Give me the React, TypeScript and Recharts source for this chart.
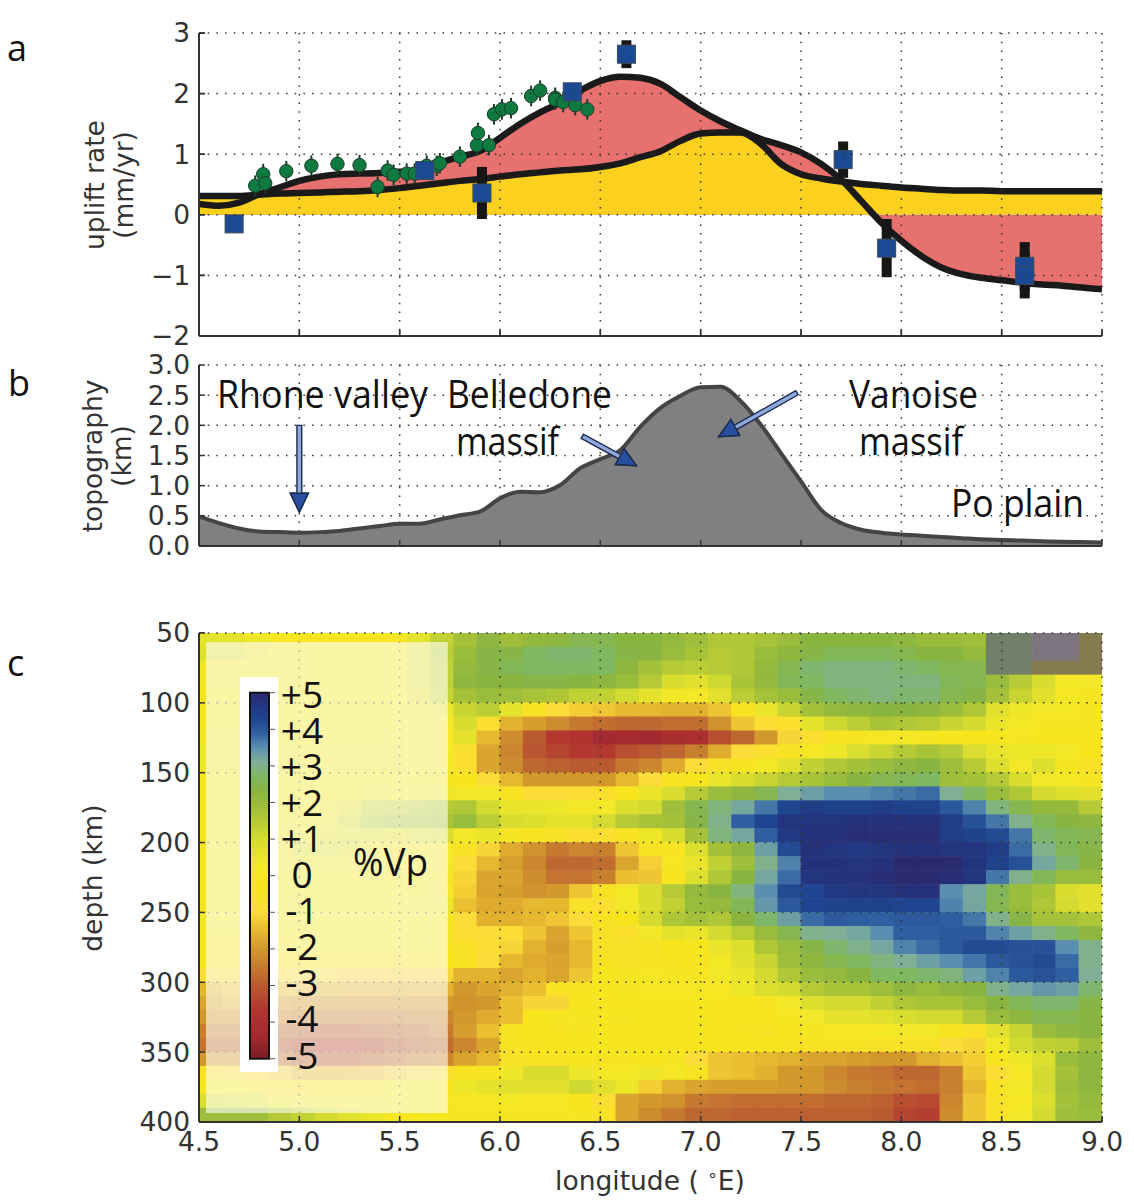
import React from 'react';
import { ComposedChart, Area, Line, Scatter, ErrorBar, XAxis, YAxis, CartesianGrid, ReferenceArea, ReferenceLine } from 'recharts';

const lonTicks = [4.5, 5, 5.5, 6, 6.5, 7, 7.5, 8, 8.5, 9];
const upliftTicks = [-2, -1, 0, 1, 2, 3];
const topoTicks = [0, 0.5, 1, 1.5, 2, 2.5, 3];
const depthTicks = [50, 100, 150, 200, 250, 300, 350, 400];

const profileLon = [4.5,4.6,4.7,4.8,4.9,5.0,5.1,5.2,5.3,5.4,5.5,5.6,5.7,5.8,5.9,6.0,6.1,6.2,6.3,6.4,6.5,6.6,6.7,6.8,6.9,7.0,7.1,7.2,7.3,7.4,7.5,7.6,7.7,7.8,7.9,8.0,8.1,8.2,8.3,8.4,8.5,8.6,8.7,8.8,8.9,9.0];
const modelA = [0.18,0.15,0.2,0.34,0.45,0.56,0.63,0.67,0.68,0.69,0.71,0.75,0.86,0.96,1.05,1.27,1.5,1.69,1.85,2.05,2.21,2.28,2.26,2.16,1.94,1.72,1.54,1.39,1.25,1.15,1.03,0.84,0.58,0.23,-0.13,-0.43,-0.68,-0.87,-0.98,-1.04,-1.08,-1.12,-1.15,-1.17,-1.2,-1.23];
const modelB = [0.31,0.31,0.31,0.33,0.35,0.36,0.37,0.38,0.39,0.41,0.44,0.48,0.52,0.56,0.59,0.63,0.67,0.7,0.73,0.75,0.79,0.85,0.95,1.05,1.22,1.34,1.36,1.36,1.17,0.84,0.67,0.6,0.55,0.51,0.48,0.45,0.43,0.41,0.4,0.4,0.39,0.39,0.39,0.39,0.39,0.39];
const topo = [0.49,0.38,0.29,0.24,0.23,0.22,0.23,0.25,0.29,0.33,0.37,0.37,0.44,0.51,0.57,0.79,0.9,0.89,1.01,1.29,1.44,1.59,1.98,2.29,2.49,2.63,2.64,2.4,2.01,1.54,1.07,0.6,0.38,0.27,0.22,0.19,0.17,0.15,0.13,0.11,0.1,0.09,0.08,0.07,0.065,0.06];

const levelLon = [4.78,4.82,4.83,4.935,5.06,5.19,5.3,5.39,5.44,5.47,5.535,5.575,5.635,5.685,5.7,5.8,5.885,5.89,5.945,5.97,6.01,6.055,6.155,6.2,6.275,6.275,6.315,6.375,6.435];
const levelRate = [0.48,0.67,0.52,0.72,0.81,0.84,0.82,0.46,0.73,0.66,0.68,0.68,0.81,0.81,0.85,0.96,1.15,1.35,1.15,1.66,1.74,1.76,1.96,2.05,1.93,1.9,1.86,1.81,1.74];
const gpsLon = [4.675,5.625,5.91,6.36,6.63,7.71,7.927,8.615,8.615];
const gpsRate = [-0.15,0.73,0.36,2.03,2.65,0.91,-0.55,-0.85,-1.0];
const gpsErr = [0,0.1,0.43,0.1,0.23,0.3,0.48,0.4,0.38];

const vpRows = [
[.6,.6,.4,.1,0,0,0,0,.1,.6,1.3,1.8,2.2,1.9,2.1,2.2,2.5,2.5,2.3,2.3,2.1,1.9,1.6,1.6,1.7,2,2.3,2.3,2.3,2.3,2.2,2,2,1.9,6,6,7,7,8],
[.8,.8,.5,.2,.1,0,0,0,.2,.8,1.4,2,2.4,2.4,2.7,2.8,2.8,2.7,2.4,2.3,2,1.7,1.5,1.6,2,2.2,2.4,2.6,2.6,2.6,2.5,2.3,2.3,2.1,6,6,7,7,8],
[.2,.1,.1,.1,.1,0,0,0,.2,.8,1.3,2.1,2.4,2.6,2.7,2.7,2.7,2.7,2.2,1.8,1.5,1.4,1.5,1.6,2.1,2.5,2.8,2.9,2.9,2.9,2.8,2.7,2.5,2.5,6,6,8,8,8],
[.1,.1,.1,.1,.1,0,0,0,.2,.8,1.3,2.2,2.3,2.3,2.4,2.4,2.3,2.2,2,1.5,.9,.7,1.1,1.7,2.1,2.6,2.7,2.9,2.9,2.9,2.9,2.9,2.6,2.5,2,1.5,.9,.2,.3],
[0,0,0,0,0,0,0,0,.1,.6,1.2,1.8,2,1.9,1.7,1.6,1.3,1.3,1,.6,.2,.2,.7,1.4,1.8,2,2.4,2.7,2.8,2.9,2.8,2.8,2.5,2.4,1.8,1.2,.7,.1,0],
[0,0,0,0,0,0,0,0,0,.2,.5,1.2,1.4,.6,-.5,-1,-1.2,-1.3,-1.5,-1.5,-1.6,-1.6,-1.3,-.5,.5,1.2,1.8,2.1,2.2,2.3,2.3,2.2,2,1.6,.7,.4,.3,.2,0],
[0,0,0,0,0,0,0,0,0,.1,.2,.9,-.8,-1.6,-1.9,-2.2,-2.5,-2.7,-2.8,-2.8,-2.7,-2.7,-2.1,-1.3,-.9,-.7,.6,1.1,1.4,1.7,1.6,1.5,1.2,1,.5,.2,0,0,0],
[.2,.2,0,0,0,0,0,0,.2,.2,.2,.6,-1.5,-2.2,-3,-3.6,-3.8,-4.4,-4.3,-4.4,-4.1,-4,-3.2,-2.8,-2,-1.1,-.8,-.4,0,.1,.2,0,-.2,-.3,-.2,0,-.2,-.2,-.2],
[.4,.4,.2,.1,.1,.2,.4,.4,.4,.2,.2,-.8,-1.8,-2.3,-3.1,-3.4,-3.6,-3.6,-3.2,-3,-2.8,-2.4,-1.7,-1,-.8,-.5,.1,.4,.9,1.2,1.5,1.7,1.5,.9,.5,.4,.4,.3,-.3],
[.4,.4,.2,0,.1,.2,.4,.4,.4,.2,.2,-.8,-1.8,-2.2,-2.8,-2.9,-3,-3,-2.5,-2.3,-1.7,-1,-.6,-.4,.2,.7,1.3,1.6,1.8,2,2.2,2.3,1.9,1.5,.8,.3,.8,0,-.6],
[0,0,0,0,0,0,0,0,0,0,0,-.3,-1,-1.5,-2,-2,-2,-2,-1.5,-1,-.5,-.3,.5,.9,1.2,1.5,1.7,2,2.3,2.5,2.6,2.7,1.9,1.8,1.5,.9,.3,.2,0],
[0,0,0,0,0,0,0,.1,.2,.3,.4,.3,.3,-.5,-1,-1,-.9,-.7,-.2,.5,.9,1.5,2,2.2,2.5,3.1,3.3,3.5,3.5,3.6,3.7,3.8,3.1,2.7,2,1.6,1,.8,.7],
[0,0,0,0,0,.2,.6,1.2,1.3,1.4,1.5,1.6,1,.5,.5,.4,.3,.2,.8,1,1.9,2.5,2.9,3.2,3.7,4.3,4.5,4.4,4.4,4.5,4.4,4.4,4,3.6,2.9,2.5,2.1,2.1,1.5],
[0,0,0,0,.1,.4,1,1.4,1.6,1.6,1.7,2,1.4,.9,.8,.6,.6,1,1.5,1.7,1.8,2.4,3,3.9,4.3,4.7,4.7,4.7,4.8,4.8,4.8,4.8,4.5,4.1,3.7,3,2.6,2.3,2.2],
[0,0,0,.1,.3,.6,.7,.7,.6,.8,.9,.3,.5,0,-.4,-.6,-.8,-.8,-.5,.4,.9,1.8,2.9,3.2,3.9,4.6,4.8,4.8,4.9,4.9,4.9,4.9,4.5,4.4,4.2,3.7,2.8,2.6,2.5],
[0,0,0,.2,.8,.8,.6,.4,.2,.1,.2,-.6,-1.1,-1.7,-2.1,-2.5,-2.3,-2.4,-1.3,-.5,-.1,.8,1.8,2.2,3.3,4.2,4.8,4.7,4.6,4.7,4.8,4.8,4.7,4.7,4.5,3.8,3,2.6,2.4],
[0,0,0,.1,.2,.2,.2,.1,.1,.1,.2,-1,-1.5,-1.9,-2.3,-2.8,-2.8,-2.7,-1.8,-1.2,0,.5,1.3,1.9,3,3.6,4.8,4.8,4.7,4.8,5,5,5,4.7,4.4,4.1,3.2,2.8,2.3],
[0,0,0,0,0,0,0,0,0,0,0,-1.1,-1.8,-1.8,-2.2,-2.6,-2.6,-2.4,-1.4,-1.3,-.3,.8,1.6,2.3,3.2,3.8,4.7,4.8,4.8,4.9,5,5,4.9,4.7,3.7,3,2.6,2,2],
[0,0,0,0,0,0,0,0,0,0,.1,-1.2,-1.8,-1.9,-2.1,-2,-1.3,-.5,.2,.9,1.5,2.1,2.3,2.9,3.5,4.2,4.3,4.6,4.7,4.7,4.8,4.8,3.5,3.2,2.6,2,1.7,.9,.7],
[0,0,0,0,0,0,0,0,0,.1,.4,-1.4,-1.7,-1.7,-1.5,-1.5,-.6,-.8,.3,.9,1.3,2,2.1,2.6,3.4,4,4.3,4.4,4.4,4.4,4.3,4.3,3.6,3.2,2.5,2,1.6,1,.7],
[.2,.1,0,0,0,0,0,0,0,0,0,-1,-1.6,-1.6,-1.5,-1.3,-1,-.5,-.3,1,1.6,1.8,1.6,2.3,2.8,3.3,3.8,4,3.9,3.9,4,4,3.9,3.7,3,2.4,1.8,1.8,1.6],
[0,0,0,0,0,0,0,0,0,0,0,-.9,-1,-.9,-1.3,-1.8,-1.3,-.6,-.7,.3,.6,.5,1,1.4,2,2.5,3,3.1,3.2,3.5,3.9,3.9,4,4,3.6,3.3,3,2.7,2.2],
[-.2,-.2,-.2,-.2,-.2,0,0,0,0,0,0,-.6,-.9,-1.1,-1.6,-1.9,-1.5,-.6,-.6,-.5,-.3,-.2,.5,.8,1.6,2,2.4,2.8,3,3.2,3.6,3.8,4,4.2,4.2,4.1,4.1,3.5,3],
[-.3,-.3,-.3,-.3,-.3,-.3,-.3,-.3,-.3,-.3,-.3,-.5,-1,-1.5,-1.7,-1.8,-1.5,-.5,-.6,-.5,-.4,-.4,.2,.7,1.2,1.9,2.2,2.5,2.7,2.9,3.1,3.3,3.5,3.7,4,4.1,4.2,3.8,3],
[-1,-.8,-.9,-.9,-1,-1,-1.1,-1.1,-1.1,-1.1,-1.1,-1.6,-1.6,-1.8,-1.6,-1.8,-1.3,-.2,0,.1,0,-.1,.3,.5,1,1.6,2,2.1,2.3,2.7,2.7,2.8,2.9,3.3,3.6,4,4.1,3.9,3.1],
[-1.5,-1.3,-1.3,-1.4,-1.4,-1.5,-1.6,-1.6,-1.6,-1.6,-1.6,-2,-1.8,-1.6,-1.4,-.5,-.4,-.2,0,.1,.1,.1,.1,.4,.8,1,1.5,1.7,1.7,1.9,2.2,2,2.2,2.3,3,3.2,3.4,3.3,2.8],
[-1.8,-1.6,-1.7,-1.9,-2,-2,-2,-2,-2,-2,-2,-2.1,-2,-1.4,-1.1,-1.1,-.3,-.1,-.2,-.2,-.2,-.2,-.2,-.2,-.1,.3,.8,1,1,1.3,1.6,1.7,1.7,2,2.3,2.6,2.8,2.8,2.4],
[-2,-2,-2.1,-2.2,-2.3,-2.4,-2.4,-2.4,-2.4,-2.3,-2.3,-2,-1.7,-1.4,-.2,0,0,0,0,-.2,-.2,-.2,-.2,-.2,-.2,0,.3,.6,.6,.7,.9,1,1,1.5,2,2.2,2.5,2.5,2.3],
[-2.4,-2.4,-2.5,-2.7,-2.8,-2.9,-2.9,-2.8,-2.7,-2.6,-2.5,-1.9,-1.4,-.4,-.2,-.1,-.1,-.2,-.2,-.3,-.2,-.2,-.3,-.4,-.5,-.3,0,.1,.1,.1,.3,.3,-.4,-.6,.7,1.2,2,2.2,2.3],
[-2.6,-2.6,-2.7,-3,-3.2,-3.3,-3.3,-3.2,-3,-2.8,-2.7,-2.3,-1.8,-.5,-.4,-.3,-.2,-.2,-.2,-.3,-.3,-.3,-.3,-.3,-.3,-.4,-.5,-.5,-.5,-.6,-.6,-.6,-1,-1.1,.3,1,1.3,1.4,1.9],
[-2,-2,-2.2,-2.6,-2.8,-2.9,-2.9,-2.8,-2.6,-2.4,-2.3,-1.8,-1.5,-.6,-.5,-.5,-.2,-.4,-.1,-.3,0,-1,-1.3,-1.4,-1.5,-1.6,-1.8,-1.8,-1.9,-2,-2,-1.6,-1.4,-1.2,-.2,.4,.8,2,2.2],
[-.6,-.8,-.9,-1.2,-1.5,-1.5,-1.5,-1.4,-1.2,-1,-.8,-.4,-.1,.4,.9,.9,.4,.2,.2,.4,.2,-.4,-1.3,-1.4,-1.6,-2,-2,-2.3,-2.5,-2.6,-2.8,-2.8,-2.4,-1.3,-.9,.1,1,1.8,2.2],
[0,0,-.2,-.3,-.3,-.3,-.2,-.1,0,0,0,.4,.6,.7,.7,.7,1.1,.7,.4,-1.2,-1.6,-1.8,-1.9,-1.9,-1.9,-2,-2,-2.2,-2.4,-2.5,-2.6,-2.7,-2.4,-1.5,-.5,.3,1,1.9,2.2],
[.9,.8,.7,.4,.3,.2,.2,.1,0,0,0,.1,.1,.2,.1,.1,-.3,-.8,-1.8,-2,-2.1,-2.5,-2.6,-2.7,-2.7,-2.7,-2.7,-2.8,-2.8,-2.9,-3.2,-3.3,-2.3,-1.3,-.6,.1,.8,1.8,2.1],
[1.9,1.9,1.9,1.5,1.3,1,.7,.5,.2,0,0,0,0,0,0,0,0,-.5,-1.8,-2.2,-2.5,-2.8,-2.8,-2.9,-2.9,-2.9,-2.9,-2.9,-2.9,-3,-3.4,-3.5,-2.2,-1.3,-.6,.3,1,1.9,2],
];
const colorbarTicks = ['+5', '+4', '+3', '+2', '+1', '0', '-1', '-2', '-3', '-4', '-5'];

const STOPS: [number, string][] = [
  [-5, '#7A1C24'], [-4.4, '#A32A30'], [-3.7, '#B23430'], [-3, '#BA5A30'], [-2.5, '#C67A30'], [-2, '#D2982C'],
  [-1.5, '#E6B830'], [-1, '#FBDC38'], [-0.3, '#F8E41C'], [0.3, '#F3E828'], [1, '#D3DB30'], [1.7, '#A9C338'],
  [2.3, '#8AB440'], [2.7, '#7FB860'], [3.1, '#80AF98'], [3.5, '#5A8FB0'], [3.9, '#2F5FA0'], [4.3, '#1F4590'],
  [4.7, '#23357F'], [5, '#2A2A70'], [6, '#72806A'], [7, '#7C7580'], [8, '#857A50'],
];
const hex = (h: string) => [1, 3, 5].map((i) => parseInt(h.slice(i, i + 2), 16));
function vpColor(v: number) {
  if (v <= STOPS[0][0]) return STOPS[0][1];
  for (let i = 1; i < STOPS.length; i++) {
    if (v <= STOPS[i][0]) {
      const [a, ca] = STOPS[i - 1];
      const [b, cb] = STOPS[i];
      const t = (v - a) / (b - a);
      const A = hex(ca), B = hex(cb);
      return `rgb(${A.map((x, k) => Math.round(x + (B[k] - x) * t)).join(',')})`;
    }
  }
  return STOPS[STOPS.length - 1][1];
}

const W = 1134, LEFT = 199, RIGHT = 32, PLOT_W = 903, PLOT_C_H = 489;
const DEJAVU = '"DejaVu Sans", sans-serif';
const OPEN = '"Open Sans", sans-serif';
const INK = '#333333';

const profile = profileLon.map((lon, i) => ({ lon, a: modelA[i], b: modelB[i], topo: topo[i] }));
const levelling = levelLon.map((lon, i) => ({ lon, rate: levelRate[i], err: 0.17 }));
const gps = gpsLon.map((lon, i) => ({ lon, rate: gpsRate[i], err: gpsErr[i] }));
const nCols = vpRows[0].length, nRows = vpRows.length;
const cells = vpRows.flatMap((row, r) =>
  row.map((vp, c) => ({ lon: 4.5 + ((c + 0.5) * 4.5) / nCols, depth: 50 + ((r + 0.5) * 350) / nRows, vp }))
);

const tickStyle = { fontSize: 26.5, fill: INK, fontFamily: DEJAVU };
const axisLine = { stroke: INK, strokeWidth: 2 };
const tickLine = { stroke: INK, strokeWidth: 1.5 };
const blank = () => '';

function axes(yTicks: number[], domain: number[], yFmt: (v: number) => string, xFmt: (v: number) => string, xHeight: number, reversed = false) {
  return [
    <XAxis key="xb" dataKey="lon" type="number" domain={[4.5, 9]} ticks={lonTicks} interval={0} height={xHeight} tickSize={-6} tickMargin={16}
      tickFormatter={xFmt} tick={tickStyle} axisLine={axisLine} tickLine={tickLine} allowDataOverflow />,
    <XAxis key="xt" xAxisId="top" orientation="top" dataKey="lon" type="number" domain={[4.5, 9]} ticks={lonTicks} interval={0} height={0} tickSize={-6}
      tickFormatter={blank} axisLine={axisLine} tickLine={tickLine} allowDataOverflow />,
    <YAxis key="yl" type="number" domain={domain} ticks={yTicks} interval={0} width={LEFT} tickSize={-6} tickMargin={15} reversed={reversed}
      tickFormatter={yFmt} tick={tickStyle} axisLine={axisLine} tickLine={tickLine} allowDataOverflow />,
    <YAxis key="yr" yAxisId="right" orientation="right" type="number" domain={domain} ticks={yTicks} interval={0} width={0} tickSize={-6} reversed={reversed}
      tickFormatter={blank} axisLine={axisLine} tickLine={tickLine} allowDataOverflow />,
  ];
}

const grid = <CartesianGrid stroke="#333" strokeWidth={1.5} strokeDasharray="1.5 7.2" />;

const blueSquare = (p: any) => <rect x={p.cx - 9} y={p.cy - 9} width={18} height={18} fill="#1B4A93" stroke="#3a4a5a" strokeWidth={1} />;
const greenDot = (p: any) => <circle cx={p.cx} cy={p.cy} r={6.7} fill="#0E7A40" stroke="#1c3b2b" strokeWidth={1} />;
const heatCell = (p: any) => (
  <rect x={p.cx - PLOT_W / nCols / 2 - 0.3} y={p.cy - PLOT_C_H / nRows / 2 - 0.3} width={PLOT_W / nCols + 0.6} height={PLOT_C_H / nRows + 0.6}
    fill={vpColor(p.payload ? p.payload.vp : p.vp)} />
);
const arrow = (p: any) => {
  const { x1, y1, x2, y2 } = p;
  const len = Math.hypot(x2 - x1, y2 - y1), ux = (x2 - x1) / len, uy = (y2 - y1) / len;
  const nx = -uy, ny = ux, hl = 19, hw = 9, tw = 2.4;
  const bx = x2 - ux * hl, by = y2 - uy * hl;
  const pts = [[x1 + nx * tw, y1 + ny * tw], [bx + nx * tw, by + ny * tw], [bx + nx * hw, by + ny * hw], [x2, y2], [bx - nx * hw, by - ny * hw], [bx - nx * tw, by - ny * tw], [x1 - nx * tw, y1 - ny * tw]];
  return (
    <g>
      <polygon points={pts.map((q) => q.join(',')).join(' ')} fill="#8FAAD8" stroke="#1b2a50" strokeWidth={1.4} />
      <polygon points={[pts[2], pts[3], pts[4]].map((q) => q.join(',')).join(' ')} fill="#2A4FA0" stroke="#1b2a50" strokeWidth={1.4} />
    </g>
  );
};

const annotations: [string, number, number, number, number][] = [
  ['Rhone valley', 217, 408, 211, 38],
  ['Belledone', 447, 408, 165, 38],
  ['massif', 456, 455, 103, 38],
  ['Vanoise', 849, 408, 129, 38],
  ['massif', 859, 455, 104, 38],
  ['Po plain', 951, 517, 133, 38],
  ['%Vp', 353, 876, 75, 38],
];
const panelLetters: [string, number, number][] = [['a', 7, 61], ['b', 8, 396], ['c', 7, 676]];
const barTop = 692.7, barStep = 36.6;

export default function App() {
  return (
    <div style={{ position: 'absolute', left: 0, top: 0, width: W, height: 1203, background: '#fff' }}>
      <div style={{ position: 'absolute', left: 0, top: 0 }}>
        <ComposedChart width={W} height={360} data={profile} margin={{ top: 33, left: 0, right: RIGHT, bottom: 0 }}>
          {axes(upliftTicks, [-2, 3], (v) => (v < 0 ? `\u2212${-v}` : `${v}`), blank, 24)}
          <Area dataKey="a" type="monotone" baseValue={0} fill="#E7716F" fillOpacity={1} stroke="none" isAnimationActive={false} />
          <Area dataKey="b" type="monotone" baseValue={0} fill="#FCD01E" fillOpacity={1} stroke="none" isAnimationActive={false} />
          <Line dataKey="b" type="monotone" stroke="#1a1a1a" strokeWidth={6.5} dot={false} isAnimationActive={false} />
          <Line dataKey="a" type="monotone" stroke="#1a1a1a" strokeWidth={6.5} dot={false} isAnimationActive={false} />
          <Scatter data={levelling} dataKey="rate" shape={greenDot} isAnimationActive={false}>
            <ErrorBar dataKey="err" direction="y" width={0} stroke="#1c3b2b" strokeWidth={2} isAnimationActive={false} />
          </Scatter>
          <Scatter data={gps} dataKey="rate" shape={blueSquare} isAnimationActive={false}>
            <ErrorBar dataKey="err" direction="y" width={0} stroke="#161616" strokeWidth={10} isAnimationActive={false} />
          </Scatter>
        </ComposedChart>
      </div>
      <div style={{ position: 'absolute', left: 0, top: 0 }}>
        <ComposedChart width={W} height={360} margin={{ top: 33, left: 0, right: RIGHT, bottom: 0 }}>
          {axes(upliftTicks, [-2, 3], blank, blank, 24)}
          {grid}
        </ComposedChart>
      </div>

      <div style={{ position: 'absolute', left: 0, top: 340 }}>
        <ComposedChart width={W} height={240} data={profile} margin={{ top: 25, left: 0, right: RIGHT, bottom: 0 }}>
          {axes(topoTicks, [0, 3], (v) => v.toFixed(1), blank, 34)}
          {grid}
          <Area dataKey="topo" type="monotone" baseValue={0} fill="#808080" fillOpacity={1} stroke="#444" strokeWidth={4} isAnimationActive={false} />
          <ReferenceLine segment={[{ x: 5.0, y: 2.0 }, { x: 5.0, y: 0.56 }]} shape={arrow} ifOverflow="visible" />
          <ReferenceLine segment={[{ x: 6.41, y: 1.82 }, { x: 6.68, y: 1.33 }]} shape={arrow} ifOverflow="visible" />
          <ReferenceLine segment={[{ x: 7.48, y: 2.54 }, { x: 7.09, y: 1.81 }]} shape={arrow} ifOverflow="visible" />
        </ComposedChart>
      </div>

      <div style={{ position: 'absolute', left: 0, top: 600 }}>
        <ComposedChart width={W} height={600} margin={{ top: 33, left: 0, right: RIGHT, bottom: 0 }}>
          {axes(depthTicks, [50, 400], (v) => `${v}`, (v) => v.toFixed(1), 78, true)}
          <Scatter data={cells} dataKey="depth" shape={heatCell} isAnimationActive={false} />
        </ComposedChart>
      </div>
      <div style={{ position: 'absolute', left: 0, top: 600 }}>
        <ComposedChart width={W} height={600} margin={{ top: 33, left: 0, right: RIGHT, bottom: 0 }}>
          {axes(depthTicks, [50, 400], blank, blank, 78, true)}
          {grid}
          <ReferenceArea x1={4.535} x2={5.74} y1={56.4} y2={393.6} fill="#fff" fillOpacity={0.6} stroke="none" />
        </ComposedChart>
      </div>

      <svg width={W} height={1203} style={{ position: 'absolute', left: 0, top: 0, pointerEvents: 'none' }}>
        <defs>
          <linearGradient id="vpbar" x1="0" y1="0" x2="0" y2="1">
            {STOPS.filter((s) => s[0] <= 5).reverse().map((s) => (
              <stop key={s[0]} offset={(5 - s[0]) / 10} stopColor={s[1]} />
            ))}
          </linearGradient>
        </defs>
        {panelLetters.map(([t, x, y]) => (
          <text key={t} x={x} y={y} fontFamily={OPEN} fontSize={36} fill="#111">{t}</text>
        ))}
        {annotations.map(([t, x, y, len, fs]) => (
          <text key={t + x} x={x} y={y} fontFamily={OPEN} fontSize={fs} fill="#111" textLength={len} lengthAdjust="spacingAndGlyphs">{t}</text>
        ))}
        <rect x={240} y={677} width={38} height={395} fill="#fff" />
        <rect x={250} y={barTop} width={19} height={barStep * 10} fill="url(#vpbar)" stroke="#111" strokeWidth={2} />
        {colorbarTicks.map((t, i) => (
          <g key={t}>
            <line x1={269} x2={275} y1={barTop + i * barStep} y2={barTop + i * barStep} stroke="#555" strokeWidth={1} />
            <text x={302} y={694 + 13.5 + i * 36.1} textAnchor="middle" fontFamily={OPEN} fontSize={37} fill="#111">{t}</text>
          </g>
        ))}
        <text transform="translate(104,185) rotate(-90)" textAnchor="middle" fontFamily={DEJAVU} fontSize={26.5} fill={INK}>uplift rate</text>
        <text transform="translate(133,185) rotate(-90)" textAnchor="middle" fontFamily={DEJAVU} fontSize={26.5} fill={INK}>(mm/yr)</text>
        <text transform="translate(102,456) rotate(-90)" textAnchor="middle" fontFamily={DEJAVU} fontSize={26.5} fill={INK}>topography</text>
        <text transform="translate(131,456) rotate(-90)" textAnchor="middle" fontFamily={DEJAVU} fontSize={26.5} fill={INK}>(km)</text>
        <text transform="translate(102,878) rotate(-90)" textAnchor="middle" fontFamily={DEJAVU} fontSize={26.5} fill={INK}>depth (km)</text>
        <text x={650} y={1190} textAnchor="middle" fontFamily={DEJAVU} fontSize={26.5} fill={INK}>
          {'longitude ( '}<tspan dy={-9} fontSize={17}>{'\u2218'}</tspan><tspan dy={9}>E)</tspan>
        </text>
      </svg>
    </div>
  );
}
